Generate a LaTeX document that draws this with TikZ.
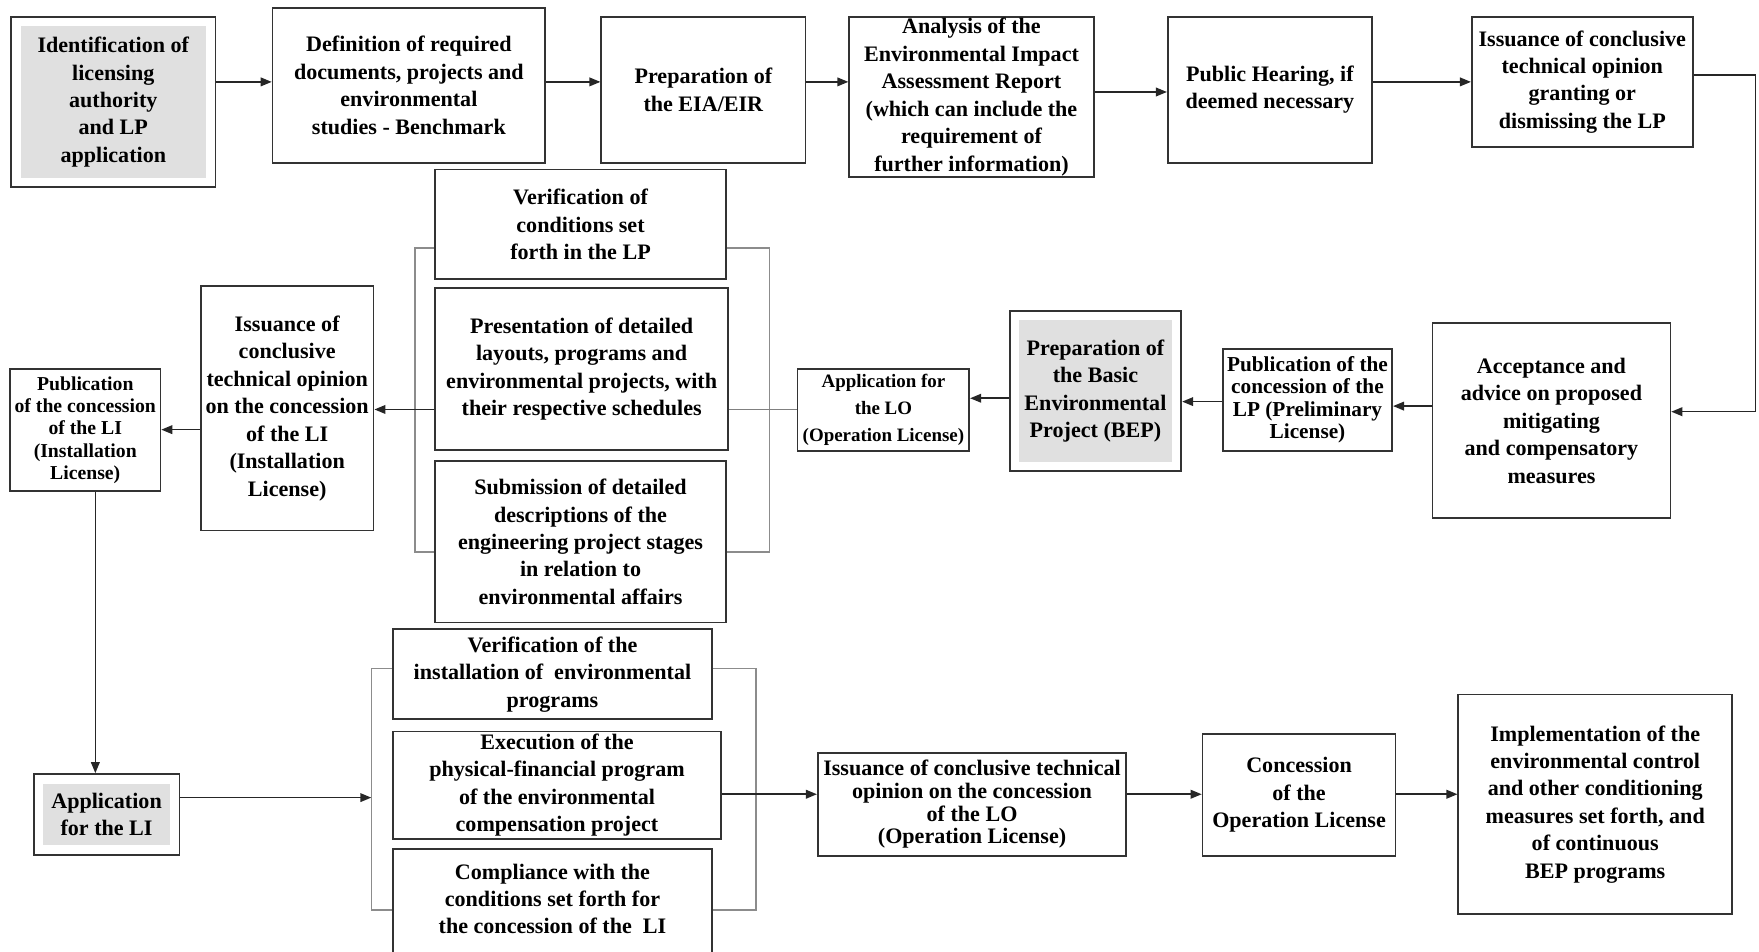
\documentclass[tikz,border=0pt]{standalone}
\usepackage{fontspec}
\setmainfont{Liberation Serif}
\usetikzlibrary{arrows.meta,calc}
\tikzset{
 bx/.style={draw=black!80, line width=1.1pt, fill=white, inner sep=0pt, align=center,
   font=\fontsize{14}{17.4}\selectfont\bfseries},
 sz/.style 2 args={minimum width={#1*0.025cm}, minimum height={#2*0.025cm}},
 greybox/.style={path picture={\fill[black!12] ([shift={(6pt,6pt)}]path picture bounding box.south west) rectangle ([shift={(-6pt,-6pt)}]path picture bounding box.north east);}},
 tight/.style={font=\fontsize{14}{14.3}\selectfont\bfseries},
 arr/.style={draw=black!85, line width=1pt, -{Triangle[length=7pt,width=5.5pt]}},
 ln/.style={draw=black!50, line width=1pt},
 brk/.style={draw=black!45, line width=1pt},
}
\begin{document}
\begin{tikzpicture}[x=0.025cm,y=-0.025cm]
\useasboundingbox (0,0) rectangle (1568,848);
% brackets
\coordinate (K1a) at (370,221); \coordinate (K1b) at (686,492);
\coordinate (K2a) at (331,596); \coordinate (K2b) at (674,811);
\draw[brk] (K1a) rectangle (K1b);
\draw[brk] (K2a) rectangle (K2b);
% row 1
\node[bx,greybox,sz={182}{152}] (B1) at (101,91) {Identification of\\licensing\\authority\\and LP\\application};
\node[bx,sz={243}{138}] (B2) at (364.5,76) {Definition of required\\documents, projects and\\environmental\\studies - Benchmark};
\node[bx,sz={182}{130}] (B3) at (627,80) {Preparation of\\the EIA/EIR};
\node[bx,sz={218}{143}] (B4) at (866,86.5) {Analysis of the\\Environmental Impact\\Assessment Report\\(which can include the\\requirement of\\further information)};
\node[bx,sz={182}{130}] (B5) at (1132,80) {Public Hearing, if\\deemed necessary};
\node[bx,sz={197}{116}] (B6) at (1410.5,73) {Issuance of conclusive\\technical opinion\\granting or\\dismissing the LP};
% row 2
\node[bx,sz={212}{174}] (B7) at (1383,375) {Acceptance and\\advice on proposed\\mitigating\\and compensatory\\measures};
\node[bx,font=\fontsize{13.5}{14.3}\selectfont\bfseries,sz={151}{91}] (B8) at (1165.5,356.5) {Publication of the\\concession of the\\LP (Preliminary\\License)};
\node[bx,greybox,sz={153}{143}] (B9) at (976.5,348.5) {Preparation of\\the Basic\\Environmental\\Project (BEP)};
\node[bx,font=\fontsize{12}{17}\selectfont\bfseries,sz={153}{73}] (B10) at (787.5,365.5) {Application for\\the LO\\(Operation License)};
\node[bx,sz={259}{98}] (M1) at (517.5,200) {Verification of\\conditions set\\forth in the LP};
\node[bx,sz={261}{144}] (M2) at (518.5,329) {Presentation of detailed\\layouts, programs and\\environmental projects, with\\their respective schedules};
\node[bx,sz={259}{144}] (M3) at (517.5,483) {Submission of detailed\\descriptions of the\\engineering project stages\\in relation to\\environmental affairs};
\node[bx,sz={154}{218}] (B11) at (256,364) {Issuance of\\conclusive\\technical opinion\\on the concession\\of the LI\\(Installation\\License)};
\node[bx,font=\fontsize{12.5}{14.2}\selectfont\bfseries,sz={134}{109}] (B12) at (76,383.5) {Publication\\of the concession\\of the LI\\(Installation\\License)};
% row 3
\node[bx,greybox,sz={130}{72}] (B13) at (95,726) {Application\\for the LI};
\node[bx,sz={285}{80}] (L1) at (492.5,601) {Verification of the\\installation of~ environmental\\programs};
\node[bx,sz={293}{96}] (L2) at (496.5,700) {Execution of the\\physical-financial program\\of the environmental\\compensation project};
\node[bx,sz={285}{113}] (L3) at (492.5,813.5) {Compliance with the\\conditions set forth for\\the concession of the~ LI\\~};
\node[bx,tight,sz={275}{92}] (B14) at (866.5,717) {Issuance of conclusive technical\\opinion on the concession\\of the LO\\(Operation License)};
\node[bx,sz={172}{109}] (B15) at (1158,708.5) {Concession\\of the\\Operation License};
\node[bx,sz={244}{196}] (B16) at (1422,717) {Implementation of the\\environmental control\\and other conditioning\\measures set forth, and\\of continuous\\BEP programs};
% helper coordinates
\coordinate (ya) at (0,73);
\coordinate (yb) at (0,82);
\coordinate (c1) at (1565,67);
\coordinate (c2) at (1565,367);
\coordinate (y7) at (0,362);
\coordinate (y8) at (0,358);
\coordinate (y9) at (0,355);
\coordinate (y10) at (0,365);
\coordinate (y11) at (0,383);
\coordinate (vx) at (85,0);
\coordinate (K2in) at (331,711);
\coordinate (y3) at (0,708);
% connectors row 1
\draw[arr] (B1.east |- ya) -- (B2.west |- ya);
\draw[arr] (B2.east |- ya) -- (B3.west |- ya);
\draw[arr] (B3.east |- ya) -- (B4.west |- ya);
\draw[arr] (B4.east |- yb) -- (B5.west |- yb);
\draw[arr] (B5.east |- ya) -- (B6.west |- ya);
\draw[arr] (B6.east |- c1) -- (c1) -- (c2) -- (B7.east |- c2);
% row 2
\draw[arr] (B7.west |- y7) -- (B8.east |- y7);
\draw[arr] (B8.west |- y8) -- (B9.east |- y8);
\draw[arr] (B9.west |- y9) -- (B10.east |- y9);
\draw[ln] (B10.west |- y10) -- (M2.east |- y10);
\draw[arr] (M2.west |- y10) -- (B11.east |- y10);
\draw[arr] (B11.west |- y11) -- (B12.east |- y11);
\draw[arr] (B12.south -| vx) -- (B13.north -| vx);
% row 3
\draw[arr] (B13.east |- K2in) -- (K2in);
\draw[arr] (L2.east |- y3) -- (B14.west |- y3);
\draw[arr] (B14.east |- y3) -- (B15.west |- y3);
\draw[arr] (B15.east |- y3) -- (B16.west |- y3);
\end{tikzpicture}
\end{document}
